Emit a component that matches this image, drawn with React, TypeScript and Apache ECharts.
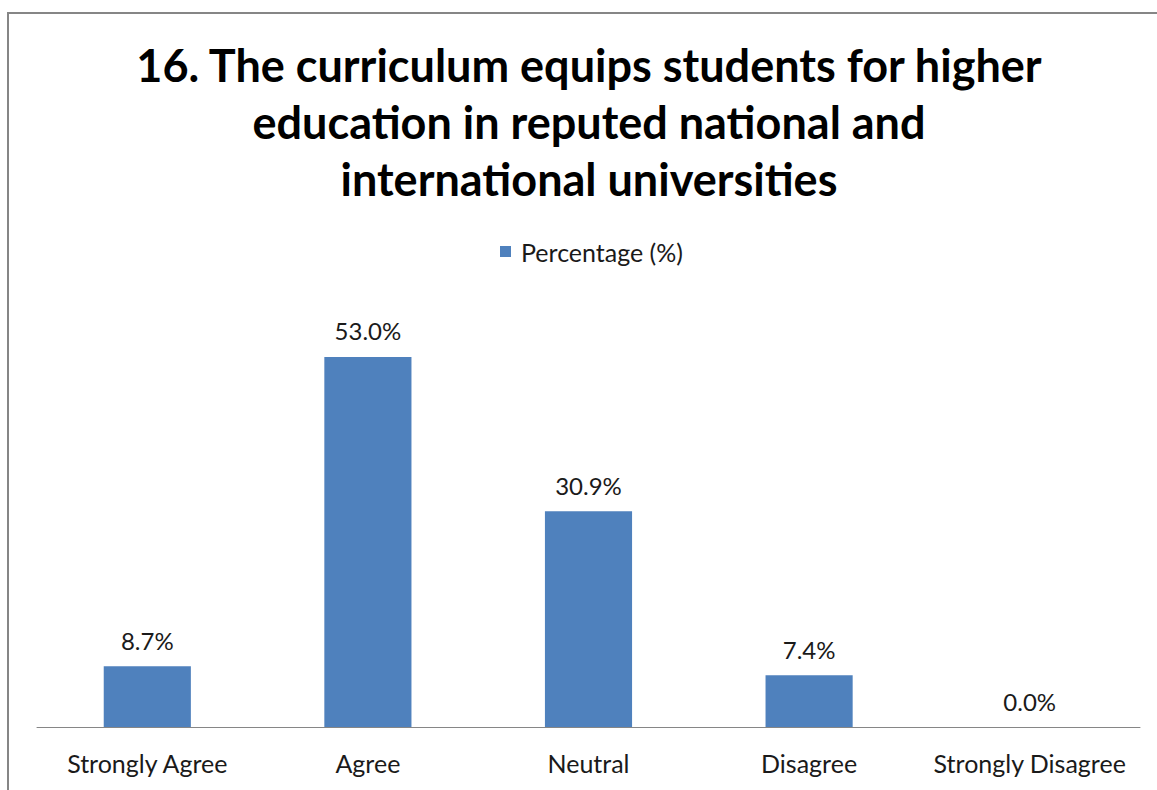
import React, { useEffect, useRef } from "react";
import * as echarts from "echarts";

const categories = ["Strongly Agree", "Agree", "Neutral", "Disagree", "Strongly Disagree"];
const percentages = [8.7, 53.0, 30.9, 7.4, 0.0];
const seriesName = "Percentage (%)";
const titleText = "16. The curriculum equips students for higher\neducation in reputed national and\ninternational universities";

export default function App() {
  const ref = useRef<HTMLDivElement>(null);
  useEffect(() => {
    if (!ref.current) return;
    const chart = echarts.init(ref.current, null, { renderer: "svg" });
    chart.setOption({
      animation: false,
      backgroundColor: "#ffffff",
      textStyle: { fontFamily: "Lato" },
      title: {
        text: titleText,
        left: 589,
        top: 36,
        padding: 0,
        textAlign: "center",
        textStyle: {
          fontFamily: "Lato",
          fontWeight: "bold",
          fontSize: 45,
          lineHeight: 57,
          color: "#000000",
        },
      },
      legend: {
        left: 500,
        top: 239,
        padding: 0,
        itemWidth: 11,
        itemHeight: 11,
        itemGap: 10,
        icon: "rect",
        data: [seriesName],
        textStyle: { fontFamily: "Lato", fontSize: 25, color: "#1a1a1a", padding: [0, 0, 0, 5] },
      },
      grid: { left: 37, right: 17, top: 308, bottom: 63, containLabel: false },
      xAxis: {
        type: "category",
        data: categories,
        axisLine: { show: true, lineStyle: { color: "#868686", width: 1 } },
        axisTick: { show: false },
        axisLabel: { fontFamily: "Lato", fontSize: 25, color: "#1a1a1a", margin: 23, interval: 0 },
      },
      yAxis: {
        type: "value",
        min: 0,
        max: 60,
        show: false,
        splitLine: { show: false },
      },
      series: [
        {
          name: seriesName,
          type: "bar",
          data: percentages,
          barWidth: "39.5%",
          itemStyle: { color: "#4F81BD" },
          label: {
            show: true,
            position: "top",
            distance: 14,
            fontFamily: "Lato",
            fontSize: 24,
            color: "#1a1a1a",
            formatter: (p: any) => Number(p.value).toFixed(1) + "%",
          },
        },
      ],
      graphic: [
        {
          type: "rect",
          shape: { x: 8, y: 13, width: 1160, height: 800 },
          style: { fill: "none", stroke: "#868686", lineWidth: 2 },
          silent: true,
          z: 100,
        },
      ],
    });
    return () => chart.dispose();
  }, []);
  return (
    <div
      ref={ref}
      style={{ position: "fixed", left: 0, top: 0, width: 1157, height: 790 }}
    />
  );
}
